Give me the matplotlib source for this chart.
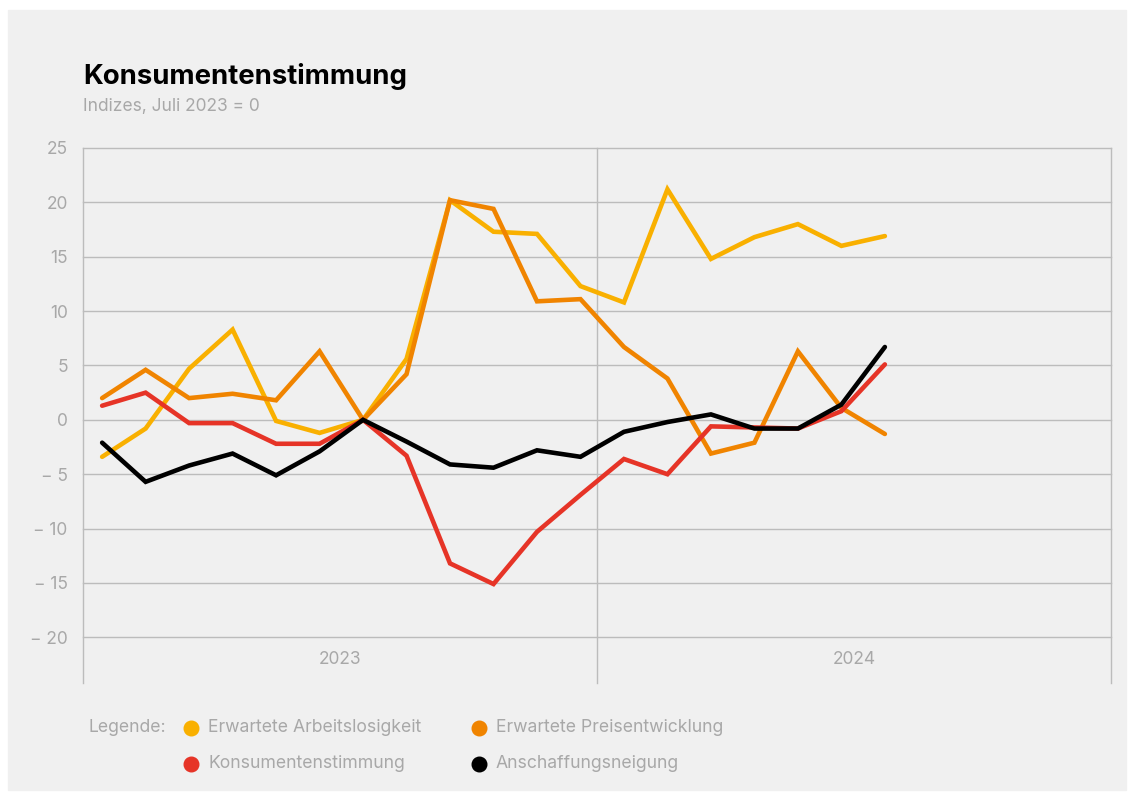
#Consumer sentiment line chart (Konsumentenstimmung), Jan 2023 - Jul 2024
from matplotlib import pyplot as plt
from matplotlib import patches as mp
from matplotlib.lines import Line2D
import numpy as np

plt.rcParams['font.family'] = ['Inter', 'DejaVu Sans']

#monthly values, Juli 2023 = 0
arbeitslosigkeit = [-3.4, -0.8, 4.7, 8.3, -0.1, -1.2, 0.0, 5.6, 20.2, 17.3, 17.1,
                    12.3, 10.8, 21.2, 14.8, 16.8, 18.0, 16.0, 16.9]
preise = [2.0, 4.6, 2.0, 2.4, 1.8, 6.3, 0.0, 4.2, 20.2, 19.4, 10.9,
          11.1, 6.7, 3.8, -3.1, -2.1, 6.3, 1.1, -1.3]
konsum = [1.3, 2.5, -0.3, -0.3, -2.2, -2.2, 0.0, -3.3, -13.2, -15.1, -10.3,
          -6.9, -3.6, -5.0, -0.6, -0.7, -0.8, 0.8, 5.1]
anschaffung = [-2.1, -5.7, -4.2, -3.1, -5.1, -2.9, 0.0, -2.0, -4.1, -4.4, -2.8,
               -3.4, -1.1, -0.2, 0.5, -0.8, -0.8, 1.4, 6.7]

NAMES = ['Erwartete Arbeitslosigkeit', 'Erwartete Preisentwicklung',
         'Konsumentenstimmung', 'Anschaffungsneigung']
COLOURS = ['#f9b000', '#f08400', '#e63427', '#000000']
SERIES = [arbeitslosigkeit, preise, konsum, anschaffung]
YEARS = ['2023', '2024']
YTICKS = [25, 20, 15, 10, 5, 0, -5, -10, -15, -20]

GREY = '#a8a8a8'
GRID = '#bcbcbc'

fig = plt.figure(figsize=(11.34, 8), dpi=100, facecolor='white')
fig.add_artist(mp.Rectangle((8 / 1134, 10 / 800), 1118 / 1134, 780 / 800,
                            transform=fig.transFigure, color='#f0f0f0', zorder=-10))

ax = fig.add_axes([83 / 1134, 117 / 800, 1028 / 1134, 535 / 800])
ax.set_facecolor('none')

months = np.arange(len(arbeitslosigkeit))
# black and red drawn last so they sit on top
for idx in [0, 1, 2, 3]:
    ax.plot(months, SERIES[idx], color=COLOURS[idx], lw=3.3,
            solid_joinstyle='miter', solid_capstyle='round', zorder=3 + idx)

ax.set_xlim(-0.44, 23.2)
ax.set_ylim(-24.2, 25)

for v in YTICKS:
    ax.axhline(v, color=GRID, lw=1.0, zorder=1, clip_on=False)
for xv in [-0.44, 11.38, 23.2]:
    ax.axvline(xv, color=GRID, lw=1.0, zorder=1, clip_on=False)

for s in ax.spines.values():
    s.set_visible(False)
ax.set_xticks([])
ax.set_yticks(YTICKS)
ax.set_yticklabels([('\u2212 ' + str(-v)) if v < 0 else str(v) for v in YTICKS])
ax.tick_params(axis='y', length=0, pad=11, labelsize=12.5, labelcolor=GREY)

# year labels under the grid
for lab, xc in zip(YEARS, [5.47, 17.3]):
    ax.text(xc, -22.0, lab, ha='center', va='center', fontsize=12.5, color=GREY)

fig.text(83 / 1134, 1 - 77 / 800, 'Konsumentenstimmung', fontsize=19.8,
         fontweight='bold', color='#000000', va='center', ha='left')
fig.text(83 / 1134, 1 - 106 / 800, 'Indizes, Juli 2023 = 0', fontsize=12.5,
         color=GREY, va='center', ha='left')

# legend
fig.text(88 / 1134, 1 - 728 / 800, 'Legende:', fontsize=12.7, color=GREY,
         va='center', ha='left')
pos = [(191, 728), (479, 728), (191, 764), (479, 764)]
for (px, py), name, col in zip(pos, NAMES, COLOURS):
    fig.add_artist(Line2D([px / 1134], [1 - py / 800], marker='o', markersize=10.5,
                          color=col, transform=fig.transFigure, linestyle='none'))
    fig.text((px + 17) / 1134, 1 - py / 800, name, fontsize=12.7, color=GREY,
             va='center', ha='left')

plt.savefig('out.png', dpi=100, facecolor=fig.get_facecolor())
